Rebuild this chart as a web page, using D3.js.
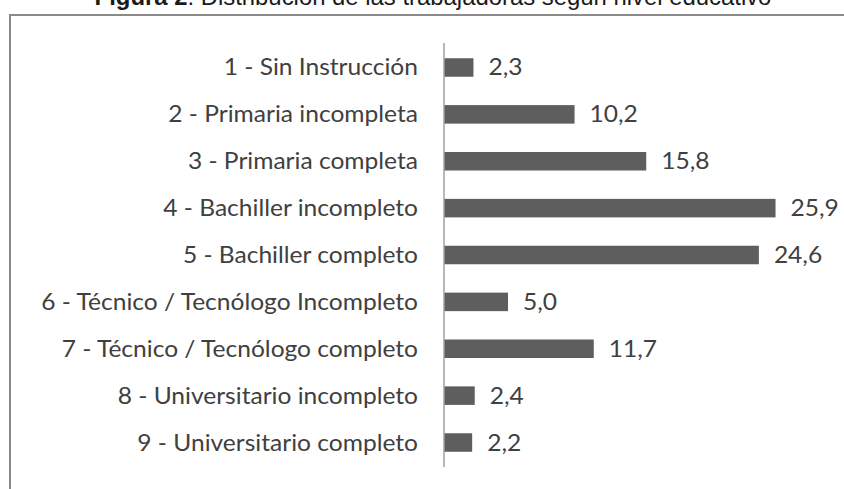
<!DOCTYPE html>
<html>
<head>
<meta charset="utf-8">
<script src="https://cdn.jsdelivr.net/npm/d3@7"></script>
<style>
  html, body { margin: 0; padding: 0; background: #fff; overflow: hidden; }
</style>
</head>
<body>
<script>
var categories = [
    "1 - Sin Instrucción",
    "2 - Primaria incompleta",
    "3 - Primaria completa",
    "4 - Bachiller incompleto",
    "5 - Bachiller completo",
    "6 - Técnico / Tecnólogo Incompleto",
    "7 - Técnico / Tecnólogo completo",
    "8 - Universitario incompleto",
    "9 - Universitario completo"
];
var values = [2.3, 10.2, 15.8, 25.9, 24.6, 5.0, 11.7, 2.4, 2.2];
var titleBold = "Figura 2";
var titleRest = ": Distribución de las trabajadoras según nivel educativo";

var width = 844, height = 489;

var svg = d3.select("body")
    .append("svg")
    .attr("width", width)
    .attr("height", height);

// title, mostly cut off at the top edge like in the scan
var title = svg.append("text")
    .attr("x", 433)
    .attr("y", 5)
    .attr("text-anchor", "middle")
    .style("font-family", "'Liberation Sans', Arial, sans-serif")
    .style("font-size", "21px")
    .style("fill", "#1a1a1a");
title.append("tspan").style("font-weight", "bold").text(titleBold);
title.append("tspan").text(titleRest);
// stretch it to the width it has in the original
var tw = title.node().getComputedTextLength();
title.style("font-size", (21 * 677 / tw) + "px");

// chart frame (runs off the right and bottom)
svg.append("path")
    .attr("d", "M10," + (height + 5) + "V15H" + (width + 5))
    .attr("fill", "none")
    .attr("stroke", "#8a8a8a")
    .attr("stroke-width", 2);

var x = d3.scaleLinear()
    .domain([0, 30])
    .range([444, 444 + 12.8 * 30]);

var y = d3.scaleBand()
    .domain(categories)
    .range([43, 467])
    .paddingInner(0.605)
    .paddingOuter(0.325);

var chart = svg.append("g");

chart.selectAll("rect.bar")
    .data(values)
    .enter()
    .append("rect")
    .attr("class", "bar")
    .attr("x", x(0))
    .attr("y", function (d, i) { return y(categories[i]); })
    .attr("width", function (d) { return x(d) - x(0); })
    .attr("height", y.bandwidth())
    .attr("fill", "#5e5e5e");

// vertical axis line only, no ticks
var axis = chart.append("g")
    .attr("transform", "translate(" + x(0) + ",0)")
    .call(d3.axisLeft(y).tickSize(0).tickFormat(""));
axis.select(".domain")
    .attr("d", "M0,43V467")
    .attr("stroke", "#a0a0a0")
    .attr("stroke-width", 1.5);

var labelFont = "Lato, 'Open Sans', sans-serif";

var catLabels = chart.selectAll("text.cat")
    .data(categories)
    .enter()
    .append("text")
    .attr("class", "cat")
    .attr("text-anchor", "end")
    .style("font-family", labelFont)
    .style("font-size", "23px")
    .style("fill", "#404040")
    .text(function (d) { return d; });

var valLabels = chart.selectAll("text.val")
    .data(values)
    .enter()
    .append("text")
    .attr("class", "val")
    .style("font-family", labelFont)
    .style("font-size", "23px")
    .style("fill", "#404040")
    .text(function (d) { return d.toFixed(1).replace(".", ","); });

// squeeze the labels so the longest one spans the same width as in the original
var longest = d3.max(catLabels.nodes(), function (n) { return n.getComputedTextLength(); });
var sx = 377 / longest;

catLabels.attr("transform", function (d) {
    return "translate(418," + (y(d) + y.bandwidth() / 2 + 8) + ") scale(" + sx + ",1)";
});
valLabels.attr("transform", function (d, i) {
    return "translate(" + (x(d) + 15) + "," + (y(categories[i]) + y.bandwidth() / 2 + 8) + ") scale(" + sx + ",1)";
});
</script>
</body>
</html>
